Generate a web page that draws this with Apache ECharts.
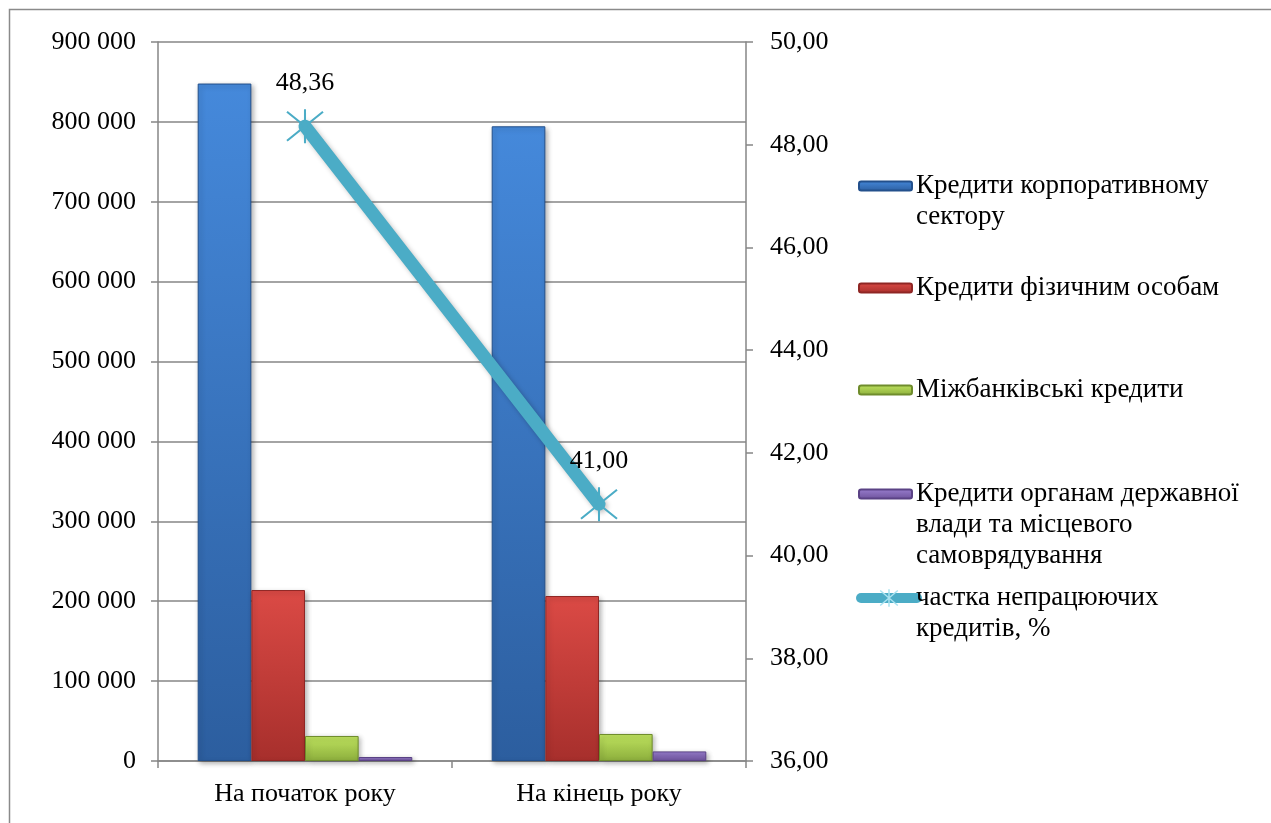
<!DOCTYPE html>
<html>
<head>
<meta charset="utf-8">
<script src="https://cdn.jsdelivr.net/npm/echarts@6/dist/echarts.min.js"></script>
<style>
  html, body { margin: 0; padding: 0; background: #fff; }
  #chart { width: 1271px; height: 823px; }
</style>
</head>
<body>
<div id="chart"></div>
<script>
// Categories and values
const categories = ['На початок року', 'На кінець року'];
const corporateLoans = [848000, 794500];
const householdLoans = [214000, 206500];
const interbankLoans = [31300, 33800];
const governmentLoans = [5000, 12000];
const nplShare = [48.36, 41.00];

const seriesNames = [
  'Кредити корпоративному сектору',
  'Кредити фізичним особам',
  'Міжбанківські кредити',
  'Кредити органам державної влади та місцевого самоврядування',
  'частка непрацюючих кредитів, %'
];
// Wrapped legend text, one string per line
const legendLines = [
  ['Кредити корпоративному', 'сектору'],
  ['Кредити фізичним особам'],
  ['Міжбанківські кредити'],
  ['Кредити органам державної', 'влади та місцевого', 'самоврядування'],
  ['частка непрацюючих', 'кредитів, %']
];

const FONT = '"Liberation Serif", "Times New Roman", Times, serif';
const FS = 26;
const LEGEND_FS = 27;
const LH = 31;
const GRAY = '#868686';
const LINE_COLOR = '#4bacc6';

function grad(top, bottom) {
  return new echarts.graphic.LinearGradient(0, 0, 0, 1, [
    { offset: 0, color: top },
    { offset: 1, color: bottom }
  ]);
}

const barStyles = [
  { color: grad('#4589db', '#2c5e9f'), borderColor: '#23508c' },
  { color: grad('#db4a45', '#a72f2c'), borderColor: '#8f2624' },
  { color: grad('#bfe35f', '#8cae3c'), borderColor: '#6f8c2c' },
  { color: grad('#9a7fd0', '#6c519a'), borderColor: '#5a4285' }
];

const barData = [corporateLoans, householdLoans, interbankLoans, governmentLoans];

const series = barData.map((d, i) => ({
  name: seriesNames[i],
  type: 'bar',
  data: d,
  barGap: '0%',
  barCategoryGap: '27%',
  itemStyle: Object.assign({
    borderWidth: 1,
    shadowBlur: 5,
    shadowOffsetX: 2,
    shadowOffsetY: 2,
    shadowColor: 'rgba(0,0,0,0.3)'
  }, barStyles[i])
}));

// Asterisk marker: vertical stroke plus two diagonals
const STAR = 'path://M0,-1L0,1M-0.85,-0.85L0.85,0.85M-0.85,0.85L0.85,-0.85';

series.push({
  name: seriesNames[4],
  type: 'line',
  yAxisIndex: 1,
  data: nplShare,
  z: 5,
  symbol: STAR,
  symbolSize: [36, 34],
  lineStyle: {
    color: LINE_COLOR,
    width: 13,
    cap: 'round',
    shadowBlur: 5,
    shadowOffsetX: 2,
    shadowOffsetY: 2,
    shadowColor: 'rgba(0,0,0,0.25)'
  },
  itemStyle: { color: 'rgba(0,0,0,0)', borderColor: LINE_COLOR, borderWidth: 2 },
  label: {
    show: true,
    position: 'top',
    distance: 12,
    fontFamily: FONT,
    fontSize: FS,
    color: '#000',
    formatter: p => p.value.toFixed(2).replace('.', ',')
  }
});

// Legend: one block per entry so each can sit at its own height,
// with the swatch aligned to the first text line.
const legendFirstLine = [186, 288, 390, 494, 598];
const legends = seriesNames.map((name, i) => {
  const n = legendLines[i].length;
  const pad = new Array(n - 1).fill('').join('\n');
  const text = (n > 1 ? pad + '\n' : '') + legendLines[i].join('\n');
  const isLine = i === 4;
  const cfg = {
    data: [name],
    orient: 'vertical',
    left: isLine ? 856 : 858,
    top: legendFirstLine[i] - (n - 1) * LH - LH / 2,
    padding: 0,
    itemWidth: isLine ? 56 : 53,
    itemHeight: isLine ? 22 : 9,
    itemGap: 0,
    selectedMode: false,
    formatter: () => text,
    textStyle: {
      fontFamily: FONT, fontSize: LEGEND_FS, lineHeight: LH, color: '#000',
      padding: [0, 0, 0, isLine ? -6 : -1]
    }
  };
  if (isLine) {
    cfg.lineStyle = { width: 10, cap: 'round', color: LINE_COLOR };
    cfg.itemStyle = { color: 'rgba(0,0,0,0)', borderColor: '#a8e2f0', borderWidth: 1.5 };
  }
  return cfg;
});

const chart = echarts.init(document.getElementById('chart'));
chart.setOption({
  backgroundColor: '#fff',
  animation: false,
  textStyle: { fontFamily: FONT },
  graphic: [{
    type: 'rect',
    shape: { x: 9.5, y: 9.5, width: 1300, height: 900 },
    style: { fill: 'none', stroke: '#8a8a8a', lineWidth: 1.5 },
    silent: true
  }],
  legend: legends,
  grid: { left: 158, right: 525, top: 42, bottom: 62 },
  xAxis: {
    type: 'category',
    data: categories,
    axisLine: { lineStyle: { color: GRAY, width: 1.5 } },
    axisTick: { show: true, length: 7, lineStyle: { color: GRAY, width: 1.5 } },
    axisLabel: { fontFamily: FONT, fontSize: FS, color: '#000', margin: 20 }
  },
  yAxis: [{
    type: 'value',
    min: 0,
    max: 900000,
    interval: 100000,
    axisLine: { show: true, lineStyle: { color: GRAY, width: 1.5 } },
    axisTick: { show: true, length: 7, lineStyle: { color: GRAY, width: 1.5 } },
    splitLine: { lineStyle: { color: GRAY, width: 1.5 } },
    axisLabel: {
      fontFamily: FONT, fontSize: FS, color: '#000', margin: 22,
      formatter: v => String(v).replace(/\B(?=(\d{3})+(?!\d))/g, ' ')
    }
  }, {
    type: 'value',
    min: 36,
    max: 50,
    interval: 2,
    position: 'right',
    axisLine: { show: true, lineStyle: { color: GRAY, width: 1.5 } },
    axisTick: { show: true, length: 7, lineStyle: { color: GRAY, width: 1.5 } },
    splitLine: { show: false },
    axisLabel: {
      fontFamily: FONT, fontSize: FS, color: '#000', margin: 24,
      formatter: v => v.toFixed(2).replace('.', ',')
    }
  }],
  series: series
});
</script>
</body>
</html>
